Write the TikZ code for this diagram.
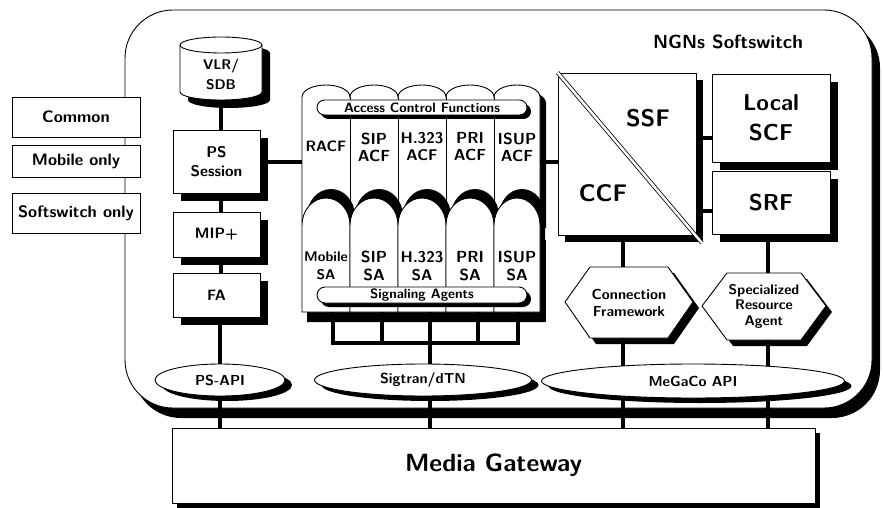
\RequirePackage{fix-cm}
\documentclass[tikz,border=0pt]{standalone}
\renewcommand{\familydefault}{\sfdefault}
\usetikzlibrary{shapes.geometric,calc}

% half-ellipse from (#1,#3) to (#2,#3) whose crest lies #4 above the base line
\newcommand{\archto}[4]{%
 .. controls ({#1},{(#3)-0.552*(#4)}) and ({((#1)+(#2))/2-0.276*((#2)-(#1))},{(#3)-(#4)}) .. ({((#1)+(#2))/2},{(#3)-(#4)})
 .. controls ({((#1)+(#2))/2+0.276*((#2)-(#1))},{(#3)-(#4)}) and ({#2},{(#3)-0.552*(#4)}) .. ({#2},{#3})}
% black drop shadow of a box: left, top, right, bottom, offset
\newcommand{\dropbox}[5]{\fill[black] ({#1+#5},{#2+#5}) rectangle ({#3+#5},{#4+#5});}

\begin{document}
\begin{tikzpicture}[x=1pt,y=-1pt,
  fs/.style 2 args={font=\sffamily\bfseries\fontsize{#1}{#2}\selectfont},
  box/.style={draw, fill=white, line width=0.9pt, inner sep=1pt, align=center},
  txt/.style={inner sep=0pt, align=center},
  oval/.style={draw, ellipse, fill=white, line width=0.9pt, inner sep=0pt},
  conn/.style={line width=4pt},
  legend/.style={box, minimum width=128pt, fs={16.5}{18}},
]
\useasboundingbox (0,0) rectangle (883,508);

% softswitch frame
\fill[black, rounded corners=48pt] (133,20) rectangle (880,418);
\node[draw, fill=white, line width=0.9pt, rounded corners=48pt, inner sep=0pt,
  minimum width=747pt, minimum height=398pt] (softswitch) at (498.5,209) {};
\node[txt, fs={19}{21}] (title) at (728,42) {NGNs Softswitch};

% legend
\node[legend, minimum height=40pt] (common) at (76,117) {Common};
\node[legend, minimum height=32pt] (mobile) at (76,161) {Mobile only};
\node[legend, minimum height=40pt] (swonly) at (76,213) {Softswitch only};

% media gateway
\dropbox{172}{428}{815}{503}{5}
\node[box, minimum width=643pt, minimum height=75pt, fs={25}{28}] (mg) at (493.5,465.5) {Media Gateway};

% mobile column
\begin{scope}[shift={(8,8)}]
\fill[black] (180,45) -- (180,92) \archto{180}{262}{92}{-8} -- (262,45) \archto{262}{180}{45}{8} -- cycle;
\end{scope}
\draw[line width=0.9pt, fill=white]
  (180,45) -- (180,92) \archto{180}{262}{92}{-8} -- (262,45) \archto{262}{180}{45}{8} -- cycle;
\draw[line width=0.9pt] (180,45) \archto{180}{262}{45}{-8};
\node[txt, fs={14}{20}, minimum width=82pt, minimum height=63pt] (vlr) at (221,74) {VLR/\\SDB};
\dropbox{173}{130}{260}{193}{8}
\node[box, minimum width=87pt, minimum height=63pt, fs={15.5}{19}] (ps) at (216.5,161.5) {PS\\Session};
\dropbox{173}{212}{260}{257}{8}
\node[box, minimum width=87pt, minimum height=45pt, fs={15}{17}] (mip) at (216.5,234.5) {MIP+};
\dropbox{173}{273}{260}{317}{8}
\node[box, minimum width=87pt, minimum height=44pt, fs={15}{17}] (fa) at (216.5,295) {FA};

% access control functions
\begin{scope}[shift={(6,6)}]
\fill[black] (302,222) -- (302,97) \archto{302}{350}{97}{12} \archto{350}{398}{97}{12}
  \archto{398}{446}{97}{12} \archto{446}{494}{97}{12} \archto{494}{540}{97}{12}
  -- (540,222) -- cycle;
\end{scope}
\draw[line width=0.9pt, fill=white]
  (302,222) -- (302,97) \archto{302}{350}{97}{12} \archto{350}{398}{97}{12}
  \archto{398}{446}{97}{12} \archto{446}{494}{97}{12} \archto{494}{540}{97}{12}
  -- (540,222) -- cycle;
\foreach \x in {350,398,446,494} \draw[line width=0.9pt] (\x,97) -- (\x,222);

% signaling agents
\fill[black] (308,240) rectangle (546,322);
\foreach \a/\b in {302/350,350/398,398/446,446/494,494/540} {
  \fill[black] ({\a+5},322) -- ({\a+5},216) \archto{\a+5}{\b+5}{216}{27} -- ({\b+5},322) -- cycle;
  \draw[line width=0.9pt, fill=white] (\a,312) -- (\a,225) \archto{\a}{\b}{225}{27} -- (\b,312) -- cycle;
}
\fill[black, rounded corners=7.5pt] (321,104) rectangle (531,119);
\node[box, rounded corners=7.5pt, minimum width=210pt, minimum height=15pt, inner sep=0pt, fs={13.5}{15}] (acfbar) at (422,107.5) {Access Control Functions};
\fill[black, rounded corners=8pt] (321,291) rectangle (531,307);
\node[box, rounded corners=8pt, minimum width=210pt, minimum height=16pt, inner sep=0pt, fs={13.5}{15}] (sabar) at (422,295) {Signaling Agents};
\node[inner sep=0pt, minimum width=238pt, minimum height=227pt] (agents) at (421,198.5) {};

\node[txt, fs={15}{17}] (racf) at (326,146) {RACF};
\node[txt, fs={16}{17}] (sipacf) at (374,147) {SIP\\ACF};
\node[txt, fs={15.5}{17}] (hacf) at (422,147) {H.323\\ACF};
\node[txt, fs={16}{17}] (priacf) at (470,147) {PRI\\ACF};
\node[txt, fs={16}{17}] (isupacf) at (517,147) {ISUP\\ACF};
\node[txt, fs={14}{18}] (mobsa) at (326,266) {Mobile\\SA};
\node[txt, fs={16}{18}] (sipsa) at (374,266) {SIP\\SA};
\node[txt, fs={15.5}{18}] (hsa) at (422,266) {H.323\\SA};
\node[txt, fs={16}{18}] (prisa) at (470,266) {PRI\\SA};
\node[txt, fs={16}{18}] (isupsa) at (517,266) {ISUP\\SA};

% call and service control
\dropbox{558}{73}{696}{235}{7}
\node[box, minimum width=138pt, minimum height=162pt] (ccf) at (627,154) {};
\draw[line width=0.8pt, double=white, double distance=2.5pt] (ccf.north west) -- (702,243);
\node[txt, fs={24}{26}] (ssf) at (648,118) {SSF};
\node[txt, fs={24}{26}] (ccflabel) at (603,193) {CCF};
\dropbox{712}{74}{830}{162}{8}
\node[box, minimum width=118pt, minimum height=88pt, fs={23}{30}] (scf) at (771,118) {Local\\SCF};
\dropbox{712}{171}{830}{234}{8}
\node[box, minimum width=118pt, minimum height=63pt, fs={23}{26}] (srf) at (771,202.5) {SRF};

% agent hexagons
\begin{scope}[shift={(6,6)}]
\fill[black] (565,302) -- (590,267) -- (668,267) -- (693,302) -- (668,338) -- (590,338) -- cycle;
\fill[black] (702,306) -- (727,273) -- (801,273) -- (826,306) -- (801,340) -- (727,340) -- cycle;
\end{scope}
\draw[line width=0.9pt, fill=white] (565,302) -- (590,267) -- (668,267) -- (693,302) -- (668,338) -- (590,338) -- cycle;
\node[txt, fs={14.5}{17}] (cf) at (629,303) {Connection\\Framework};
\draw[line width=0.9pt, fill=white] (702,306) -- (727,273) -- (801,273) -- (826,306) -- (801,340) -- (727,340) -- cycle;
\node[txt, fs={14}{15.5}] (sra) at (764,306) {Specialized\\Resource\\Agent};
\coordinate (cftop) at (623,267);
\coordinate (cfbot) at (623,338);
\coordinate (sratop) at (768,273);
\coordinate (srabot) at (768,340);

% interface anchors
\coordinate (psapic) at (220,380);
\coordinate (sigc) at (430,380);
\coordinate (sabus) at (430,343);
\coordinate (megc) at (693,381);

% connectors
\draw[conn] (vlr.center |- 0,100) -- (vlr.center |- ps.north);
\draw[conn] (vlr.center |- ps.south) -- (vlr.center |- mip.north);
\draw[conn] (vlr.center |- mip.south) -- (vlr.center |- fa.north);
\draw[conn] (psapic |- fa.south) -- (psapic) -- (psapic |- mg.north);
\draw[conn] (ps.east) -- (ps.east -| agents.west);
\draw[conn] (agents.east |- ps.east) -- (ccf.west |- ps.east);
\draw[conn] (ccf.east |- 0,138) -- (scf.west |- 0,138);
\draw[conn] (ccf.east |- 0,211) -- (srf.west |- 0,211);
\draw[conn] (cftop |- ccf.south) -- (cftop);
\draw[conn] (cfbot) -- (cfbot |- mg.north);
\draw[conn] (sratop |- srf.south) -- (sratop);
\draw[conn] (srabot) -- (srabot |- mg.north);
\foreach \x in {333,382,430,478,518} \draw[conn] (\x,312) -- (\x,343);
\draw[conn] (331,343) -- (520,343);
\draw[conn] (sabus) -- (sabus |- mg.north);

% interfaces
\fill[black] (227,385) ellipse [x radius=65, y radius=16];
\node[oval, minimum width=130pt, minimum height=32pt, fs={14.5}{17}] (psapi) at (psapic) {PS-API};
\fill[black] (430,385) ellipse [x radius=108.5, y radius=16];
\node[oval, minimum width=217pt, minimum height=32pt, fs={14.5}{17}] (sigtran) at (423,380) {Sigtran/dTN};
\fill[black] (700,386) ellipse [x radius=151.5, y radius=17];
\node[oval, minimum width=303pt, minimum height=34pt, fs={14.5}{17}] (megaco) at (megc) {MeGaCo API};
\end{tikzpicture}
\end{document}
